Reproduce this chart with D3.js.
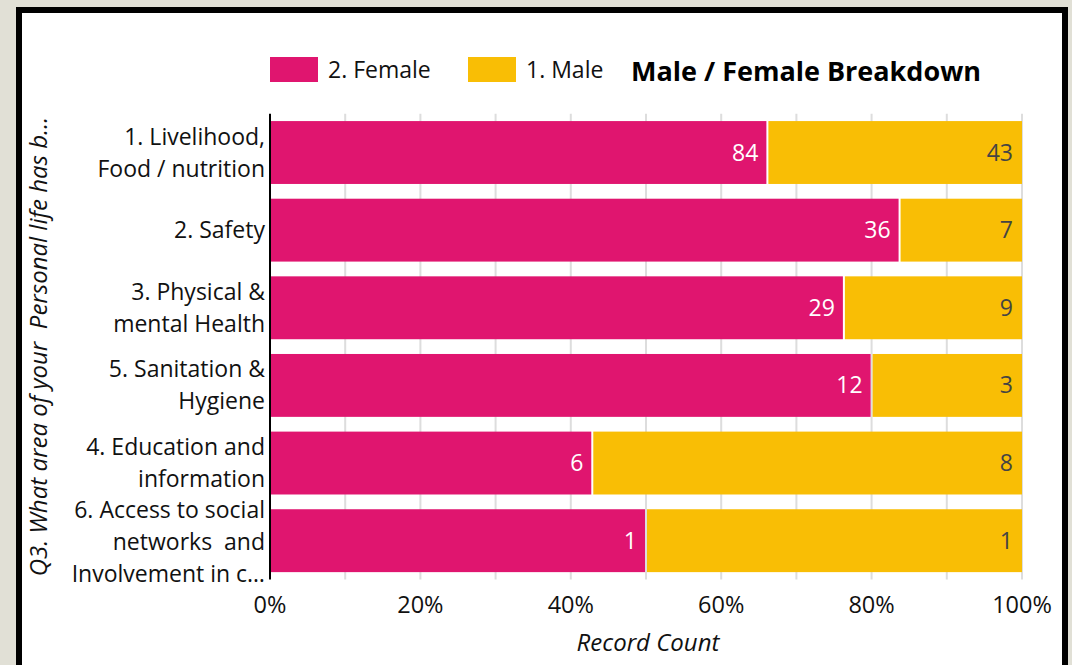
<!DOCTYPE html>
<html>
<head>
<meta charset="utf-8">
<script src="https://cdn.jsdelivr.net/npm/d3@7"></script>
<style>
  html, body { margin: 0; padding: 0; background: #e1e0d6; }
  #frame {
    position: absolute; left: 16px; top: 7px; width: 1040px; height: 700px;
    border: 6px solid #000; background: #fff;
  }
  svg { position: absolute; left: 0; top: 0; font-family: "Open Sans", "Noto Sans", sans-serif; }
  text { white-space: pre; }
</style>
</head>
<body>
<div id="frame"></div>
<div id="chart"></div>
<script>
// categories (as shown, wrapped) and counts per gender
const categories = [
  ['1. Livelihood,', 'Food / nutrition'],
  ['2. Safety'],
  ['3. Physical &', 'mental Health'],
  ['5. Sanitation &', 'Hygiene'],
  ['4. Education and', 'information'],
  ['6. Access to social', 'networks  and', 'Involvement in c\u2026']
];
const female = [84, 36, 29, 12, 6, 1];
const male = [43, 7, 9, 3, 8, 1];
const seriesNames = ['2. Female', '1. Male'];
const xTicks = [0, 0.2, 0.4, 0.6, 0.8, 1];
const yTitle = 'Q3. What area of your  Personal life has been most affected by the situation?';
const xTitle = 'Record Count';
const chartTitle = 'Male / Female Breakdown';

const PINK = '#e0156f';
const YELLOW = '#f9be05';
const W = 1072, H = 665;
const margin = { top: 113.7, left: 270, right: 50, bottom: 85.5 };

const svg = d3.select('#chart').append('svg')
    .attr('width', W)
    .attr('height', H);

const x = d3.scaleLinear().domain([0, 1]).range([margin.left, W - margin.right]);
const y = d3.scaleBand().domain(d3.range(categories.length))
    .range([margin.top, H - margin.bottom]).paddingInner(0.19).paddingOuter(0.095);

const rows = categories.map((c, i) => {
    const tot = female[i] + male[i];
    return { i, f: female[i], m: male[i], ff: female[i] / tot };
});

// gridlines every 10%
svg.append('g').selectAll('line')
    .data(d3.range(1, 11).map(d => d / 10))
    .enter().append('line')
    .attr('x1', d => x(d)).attr('x2', d => x(d))
    .attr('y1', margin.top).attr('y2', H - margin.bottom)
    .style('stroke', '#dddddd')
    .style('stroke-width', 2);

const g = svg.append('g').selectAll('g')
    .data(rows)
    .enter().append('g');

g.append('rect')
    .attr('x', x(0))
    .attr('y', d => y(d.i))
    .attr('width', d => x(d.ff) - x(0) - 1)
    .attr('height', y.bandwidth())
    .style('fill', PINK);

g.append('rect')
    .attr('x', d => x(d.ff) + 1)
    .attr('y', d => y(d.i))
    .attr('width', d => x(1) - x(d.ff) - 1)
    .attr('height', y.bandwidth())
    .style('fill', YELLOW);

g.append('text')
    .attr('x', d => x(d.ff) - 9)
    .attr('y', d => y(d.i) + y.bandwidth() / 2)
    .attr('dy', '0.35em')
    .attr('text-anchor', 'end')
    .style('font-size', '23px')
    .style('fill', '#fff')
    .text(d => d.f);

g.append('text')
    .attr('x', x(1) - 9)
    .attr('y', d => y(d.i) + y.bandwidth() / 2)
    .attr('dy', '0.35em')
    .attr('text-anchor', 'end')
    .style('font-size', '23px')
    .style('fill', '#444')
    .text(d => d.m);

// category labels
const LINE = 32;
g.append('text')
    .attr('text-anchor', 'end')
    .style('font-size', '23px')
    .style('fill', '#111')
    .each(function (d) {
        const lines = categories[d.i];
        const cy = y(d.i) + y.bandwidth() / 2 + (lines.length > 2 ? 1.5 : 0);
        const t = d3.select(this);
        lines.forEach((l, k) => {
            t.append('tspan')
                .attr('x', x(0) - 5)
                .attr('y', cy + (k - (lines.length - 1) / 2) * LINE)
                .attr('dy', '0.35em')
                .text(l);
        });
    });

// y axis line
svg.append('line')
    .attr('x1', x(0)).attr('x2', x(0))
    .attr('y1', margin.top).attr('y2', H - margin.bottom)
    .style('stroke', '#000')
    .style('stroke-width', 2);

// x tick labels
svg.append('g').selectAll('text')
    .data(xTicks)
    .enter().append('text')
    .attr('x', d => x(d))
    .attr('y', H - margin.bottom + 33)
    .attr('text-anchor', 'middle')
    .style('font-size', '23.5px')
    .style('fill', '#111')
    .text(d3.format('.0%'));

svg.append('text')
    .attr('x', (x(0) + x(1)) / 2 + 2)
    .attr('y', H - 14)
    .attr('text-anchor', 'middle')
    .style('font-size', '24px')
    .style('font-style', 'italic')
    .style('fill', '#111')
    .text(xTitle);

// y title, truncated to the plot height
const yt = svg.append('text')
    .attr('transform', `translate(47, ${(margin.top + H - margin.bottom) / 2}) rotate(-90)`)
    .attr('text-anchor', 'middle')
    .style('font-size', '24px')
    .style('font-style', 'italic')
    .style('fill', '#111')
    .text(yTitle);
const maxLen = H - margin.bottom - margin.top - 6;
let s = yTitle;
while (yt.node().getComputedTextLength() > maxLen && s.length > 1) {
    s = s.slice(0, -1);
    yt.text(s.trimEnd() + '\u2026');
}

// legend
const legend = svg.append('g').selectAll('g')
    .data(seriesNames)
    .enter().append('g')
    .attr('transform', (d, i) => `translate(${270 + i * 198}, 57)`);
legend.append('rect')
    .attr('width', 48).attr('height', 25)
    .style('fill', (d, i) => i === 0 ? PINK : YELLOW);
legend.append('text')
    .attr('x', 58).attr('y', 12.5).attr('dy', '0.35em')
    .style('font-size', '23px')
    .style('fill', '#111')
    .text(d => d);

svg.append('text')
    .attr('x', 631)
    .attr('y', 81)
    .style('font-size', '27px')
    .style('font-weight', 'bold')
    .style('fill', '#000')
    .text(chartTitle);
</script>
</body>
</html>
